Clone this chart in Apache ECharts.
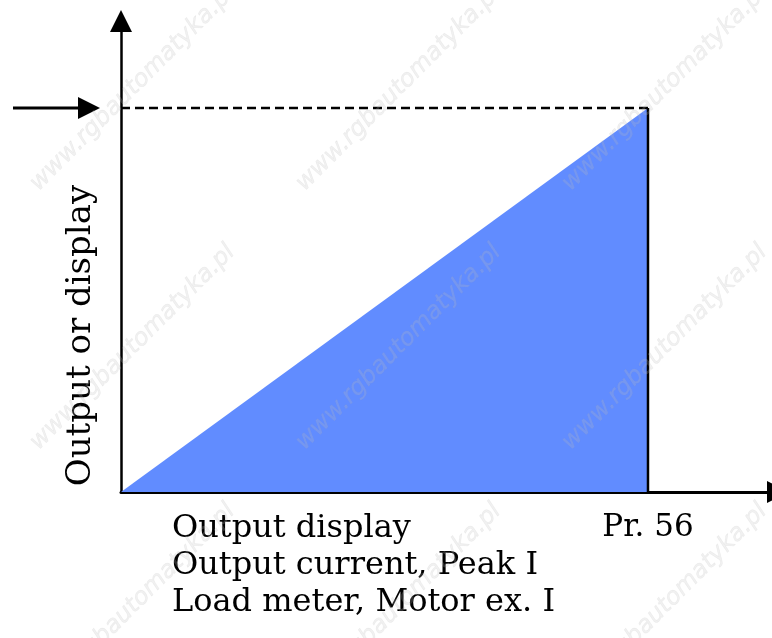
<!DOCTYPE html>
<html>
<head>
<meta charset="utf-8">
<script src="https://cdn.jsdelivr.net/npm/echarts@6/dist/echarts.min.js"></script>
<style>
  html, body { margin: 0; padding: 0; background: #ffffff; }
  #chart { width: 772px; height: 638px; }
</style>
</head>
<body>
<div id="chart"></div>
<script>
// Output ramp: 0 at the origin, full output at Pr. 56
const rampX = [0, 100, 100];
const rampY = [0, 100, 0];
// Full-scale output level (dashed reference) and Pr. 56 position
const fullScaleLevel = 100;
const pr56Value = 100;
// Text
const xEndLabel = 'Pr. 56';
const xLabelLines = ['Output display', 'Output current, Peak I', 'Load meter, Motor ex. I'];
const yAxisTitle = 'Output or display';
const watermarkText = 'www.rgbautomatyka.pl';

const SERIF = '"DejaVu Serif", "Liberation Serif", serif';
const FILL = '#618cff';

const chart = echarts.init(document.getElementById('chart'), null, { renderer: 'canvas' });

const rampData = rampX.map((x, i) => [x, rampY[i]]);

chart.setOption({
  animation: false,
  backgroundColor: '#ffffff',
  grid: { left: 121, top: 21, width: 657, height: 471, containLabel: false, outerBoundsMode: 'none' },
  xAxis: {
    type: 'value',
    min: 0,
    max: 124.67,
    splitLine: { show: false },
    axisTick: { show: false },
    axisLine: {
      show: true,
      onZero: true,
      symbol: ['none', 'triangle'],
      symbolSize: [22, 22],
      lineStyle: { color: '#000', width: 3 }
    },
    axisLabel: {
      show: true,
      customValues: [pr56Value],
      formatter: v => (v === pr56Value ? xEndLabel : ''),
      margin: 20,
      color: '#000',
      fontFamily: SERIF,
      fontSize: 31
    }
  },
  yAxis: {
    type: 'value',
    min: 0,
    max: 122.66,
    splitLine: { show: false },
    axisTick: { show: false },
    axisLabel: { show: false },
    axisLine: {
      show: true,
      onZero: false,
      symbol: ['none', 'triangle'],
      symbolSize: [22, 22],
      lineStyle: { color: '#000', width: 2.5 }
    }
  },
  series: [
    {
      name: 'ramp',
      type: 'line',
      data: rampData,
      symbol: 'none',
      lineStyle: { width: 0, color: FILL },
      areaStyle: { color: FILL, opacity: 1 },
      z: 2
    },
    {
      name: 'limit',
      type: 'line',
      data: [[pr56Value, 0], [pr56Value, fullScaleLevel]],
      symbol: 'none',
      lineStyle: { color: '#000', width: 2.5 },
      z: 3
    },
    {
      name: 'level',
      type: 'line',
      data: [[0, fullScaleLevel], [pr56Value, fullScaleLevel]],
      symbol: 'none',
      lineStyle: { color: '#000', width: 2.5, type: [9, 5] },
      z: 3
    }
  ]
});

// Annotations placed from the axis scales
const origin = chart.convertToPixel({ gridIndex: 0 }, [0, 0]);
const levelPt = chart.convertToPixel({ gridIndex: 0 }, [0, fullScaleLevel]);
const ox = origin[0], oy = origin[1], ly = levelPt[1];

const graphics = [];

// Input arrow pointing at the full-scale level
graphics.push({
  type: 'line',
  shape: { x1: ox - 108, y1: ly, x2: ox - 35, y2: ly },
  style: { stroke: '#000', lineWidth: 3 },
  z: 10
});
graphics.push({
  type: 'polygon',
  shape: { points: [[ox - 21, ly], [ox - 43, ly - 11], [ox - 43, ly + 11]] },
  style: { fill: '#000' },
  z: 10
});

// Vertical axis title
graphics.push({
  type: 'text',
  x: 81,
  y: (oy + 183) / 2 - 2,
  rotation: Math.PI / 2,
  style: {
    text: yAxisTitle,
    fill: '#000',
    font: '34px ' + SERIF,
    align: 'center',
    verticalAlign: 'middle'
  },
  z: 10
});

// Quantities shown on the horizontal axis
xLabelLines.forEach((line, i) => {
  graphics.push({
    type: 'text',
    x: ox + 51,
    y: oy + 37 + i * 37,
    style: {
      text: line,
      fill: '#000',
      font: '32px ' + SERIF,
      align: 'left',
      verticalAlign: 'middle'
    },
    z: 10
  });
});

// Faint diagonal site stamp
for (let i = 0; i < 3; i++) {
  for (let j = 0; j < 3; j++) {
    graphics.push({
      type: 'text',
      x: 34 + 266 * i,
      y: 187 + 259 * j,
      rotation: Math.PI / 4,
      silent: true,
      style: {
        text: watermarkText,
        fill: 'rgba(190,190,190,0.22)',
        stroke: 'rgba(170,170,170,0.14)',
        lineWidth: 0.6,
        font: 'italic 24px "DejaVu Sans", sans-serif',
        align: 'left',
        verticalAlign: 'middle'
      },
      z: 20
    });
  }
}

chart.setOption({ graphic: graphics });
</script>
</body>
</html>
